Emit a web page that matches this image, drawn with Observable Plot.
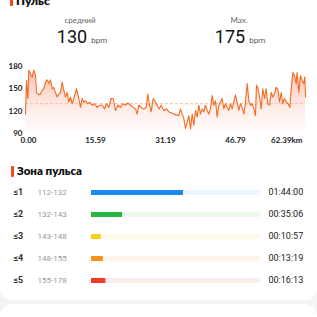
<!DOCTYPE html>
<html><head><meta charset="utf-8">
<script src="https://cdn.jsdelivr.net/npm/d3@7"></script>
<script src="https://cdn.jsdelivr.net/npm/@observablehq/plot@0.6"></script>
<style>
html,body{margin:0;padding:0;}
body{width:317px;height:317px;background:#f4f4f4;position:relative;overflow:hidden;font-family:Lato,"Noto Sans",sans-serif;}
.card1{position:absolute;left:0;top:-20px;width:317px;height:320px;background:#fff;border-radius:0 0 12px 12px;}
.card2{position:absolute;left:0;top:304px;width:317px;height:40px;background:#fff;border-radius:12px 12px 0 0;}
.abs{position:absolute;white-space:nowrap;}
.bar{position:absolute;width:3px;background:#f5481f;border-radius:1px;}
.h{font-weight:800;color:#111;font-size:12px;}
.lbl{font-size:8px;color:#666;transform:translateX(-50%);}
.big{font-size:18px;color:#111;transform:translateX(-50%);font-family:Roboto,sans-serif;}
.big span{font-size:8px;color:#555;margin-left:4px;}
#chart{position:absolute;left:0;top:58px;}
#zones{position:absolute;left:0;top:180px;}
</style></head>
<body>
<div class="card1"></div>
<div class="card2"></div>
<div class="bar" style="left:10px;top:-3px;height:9px;"></div>
<div class="abs h" style="left:16px;top:-7px;">Пульс</div>
<div class="abs lbl" id="avgLbl" style="left:80px;top:15px;"></div>
<div class="abs big" id="avgVal" style="left:82px;top:26px;"></div>
<div class="abs lbl" id="maxLbl" style="left:239px;top:15px;"></div>
<div class="abs big" id="maxVal" style="left:240px;top:26px;"></div>
<div id="chart"></div>
<div class="bar" style="left:11px;top:166px;height:11px;"></div>
<div class="abs h" style="left:17px;top:164px;font-size:11.5px;">Зона пульса</div>
<div id="zones"></div>
<script>
const avgLabel = "средний";
const maxLabel = "Max.";
const avgHr = 130;
const maxHr = 175;
const unit = "bpm";

const distanceKm = [0,0.22,0.52,0.74,1.11,1.49,1.86,2.23,2.45,2.97,3.34,3.71,4.08,4.46,4.83,5.20,5.57,5.94,6.31,6.68,7.06,7.43,7.80,8.17,8.54,8.91,9.28,9.66,10.03,10.40,10.77,11.36,11.74,12.26,12.63,13.00,13.37,13.89,14.33,14.85,15.37,15.97,16.49,17.08,17.60,18.05,18.57,19.09,19.53,20.05,20.57,21.17,21.69,22.28,22.80,23.40,23.99,24.51,24.88,25.25,25.77,26.37,26.89,27.26,27.63,28.00,28.45,28.97,29.34,29.78,30.23,30.82,31.42,31.94,32.46,33.05,33.65,34.17,34.54,34.91,35.28,35.65,36.02,36.39,36.77,37.14,37.51,37.88,38.25,38.62,38.99,39.36,39.74,40.11,40.48,40.85,41.22,41.59,41.96,42.34,42.71,43.08,43.45,43.82,44.19,44.56,44.94,45.31,45.68,46.05,46.42,46.79,47.16,47.53,47.91,48.28,48.65,49.02,49.39,49.76,50.13,50.51,50.88,51.25,51.47,51.84,52.21,52.51,52.88,53.25,53.63,54.00,54.37,54.74,55.11,55.48,55.85,56.22,56.60,56.97,57.34,57.71,58.16,58.53,58.90,59.27,59.57,59.94,60.31,60.53,60.90,61.28,61.65,62.02,62.24,62.39];
const heartRate = [116,161,137,175,170,166,175,168,145,142,143,148,150,159,162,157,162,150,152,145,139,143,145,159,148,139,145,132,139,130,137,150,141,125,137,132,134,130,132,128,130,125,128,128,123,130,125,137,137,121,128,125,130,128,131,128,125,123,116,128,125,123,125,143,128,119,137,132,128,123,128,121,123,119,118,116,115,114,123,116,110,97,105,114,96,116,101,121,112,128,116,123,119,128,121,116,123,141,128,134,112,128,132,137,123,130,125,121,130,123,132,142,132,121,130,125,116,132,157,134,128,130,123,114,155,150,137,123,150,137,150,130,128,145,139,143,152,150,132,145,130,137,132,130,125,154,172,168,157,172,145,168,161,157,166,139];

const yTicks = [90, 120, 150, 180];
const xTicks = [0, 15.59, 31.19, 46.79, 62.39];
const xTickLabels = ["0.00", "15.59", "31.19", "46.79", "62.39km"];

const zoneIcons = ["≤1", "≤2", "≤3", "≤4", "≤5"];
const zoneRanges = ["112-132", "132-143", "143-148", "148-155", "155-178"];
const zoneMinutes = [104, 35.1, 10.95, 13.32, 16.22];
const zoneTimes = ["01:44:00", "00:35:06", "00:10:57", "00:13:19", "00:16:13"];
const zoneColors = ["#1b8bf0", "#27b543", "#fbcf16", "#f9901a", "#f53b25"];
const zoneTrackColors = ["#edf5fe", "#edf8ef", "#fefaea", "#fef4ea", "#fdeeee"];

document.getElementById("avgLbl").textContent = avgLabel;
document.getElementById("maxLbl").textContent = maxLabel;
document.getElementById("avgVal").innerHTML = avgHr + "<span>" + unit + "</span>";
document.getElementById("maxVal").innerHTML = maxHr + "<span>" + unit + "</span>";

const hr = distanceKm.map((d, i) => ({d, hr: heartRate[i]}));
const xt = xTicks.map((x, i) => ({x, label: xTickLabels[i]}));
const tickFont = {fontSize: 8, fontWeight: 700, fill: "#222"};

const chart = Plot.plot({
  width: 317, height: 89,
  marginTop: 8, marginBottom: 14, marginLeft: 25, marginRight: 12,
  style: {fontFamily: "Lato, sans-serif", background: "transparent", overflow: "visible"},
  x: {domain: [0, 62.39], axis: null},
  y: {domain: [90, 180], axis: null},
  marks: [
    Plot.areaY(hr, {x: "d", y1: 90, y2: "hr", fill: "url(#hrGrad)"}),
    Plot.ruleY([avgHr], {stroke: "#f8bba6", strokeDasharray: "3,2", strokeWidth: 1}),
    Plot.lineY(hr, {x: "d", y: "hr", stroke: "#f36b20", strokeWidth: 1.1}),
    Plot.text(yTicks, {y: d => d, text: d => String(d), frameAnchor: "left", textAnchor: "end", dx: -3, ...tickFont}),
    Plot.text(xt.slice(0, 1), {x: "x", text: "label", frameAnchor: "bottom", dy: 9, dx: 3, ...tickFont}),
    Plot.text(xt.slice(1, 4), {x: "x", text: "label", frameAnchor: "bottom", dy: 9, ...tickFont}),
    Plot.text(xt.slice(4), {x: "x", text: "label", frameAnchor: "bottom", dy: 9, dx: -3, textAnchor: "end", ...tickFont})
  ]
});
d3.select(chart).insert("defs", ":first-child").html(
  '<linearGradient id="hrGrad" x1="0" y1="0" x2="0" y2="1">' +
  '<stop offset="0" stop-color="#f8755a" stop-opacity="0.5"/>' +
  '<stop offset="1" stop-color="#fde3da" stop-opacity="0.12"/></linearGradient>');
document.getElementById("chart").appendChild(chart);

const zd = zoneIcons.map((z, i) => ({i, icon: z, range: zoneRanges[i], min: zoneMinutes[i], time: zoneTimes[i], c: zoneColors[i], t: zoneTrackColors[i]}));
const zonesPlot = Plot.plot({
  width: 317, height: 112,
  marginTop: 12, marginBottom: 12, marginLeft: 91, marginRight: 57,
  style: {fontFamily: "Roboto, sans-serif", background: "transparent", overflow: "visible"},
  x: {domain: [0, 191], axis: null},
  y: {domain: [0, 4], reverse: true, axis: null},
  marks: [
    Plot.ruleY(zd, {y: "i", x1: 0, x2: 191, stroke: "t", strokeWidth: 5}),
    Plot.ruleY(zd, {y: "i", x1: 0, x2: "min", stroke: "c", strokeWidth: 5}),
    Plot.text(zd, {y: "i", text: "icon", frameAnchor: "left", textAnchor: "start", dx: -78, fontSize: 9, fontWeight: 700, fill: "#333"}),
    Plot.text(zd, {y: "i", text: "range", frameAnchor: "left", textAnchor: "start", dx: -54, fontSize: 8, fill: "#999"}),
    Plot.text(zd, {y: "i", text: "time", frameAnchor: "right", textAnchor: "start", dx: 8, fontSize: 9, fill: "#222"})
  ]
});
d3.select(zonesPlot).selectAll("line").attr("stroke-linecap", "butt");
document.getElementById("zones").appendChild(zonesPlot);
</script>
</body></html>
